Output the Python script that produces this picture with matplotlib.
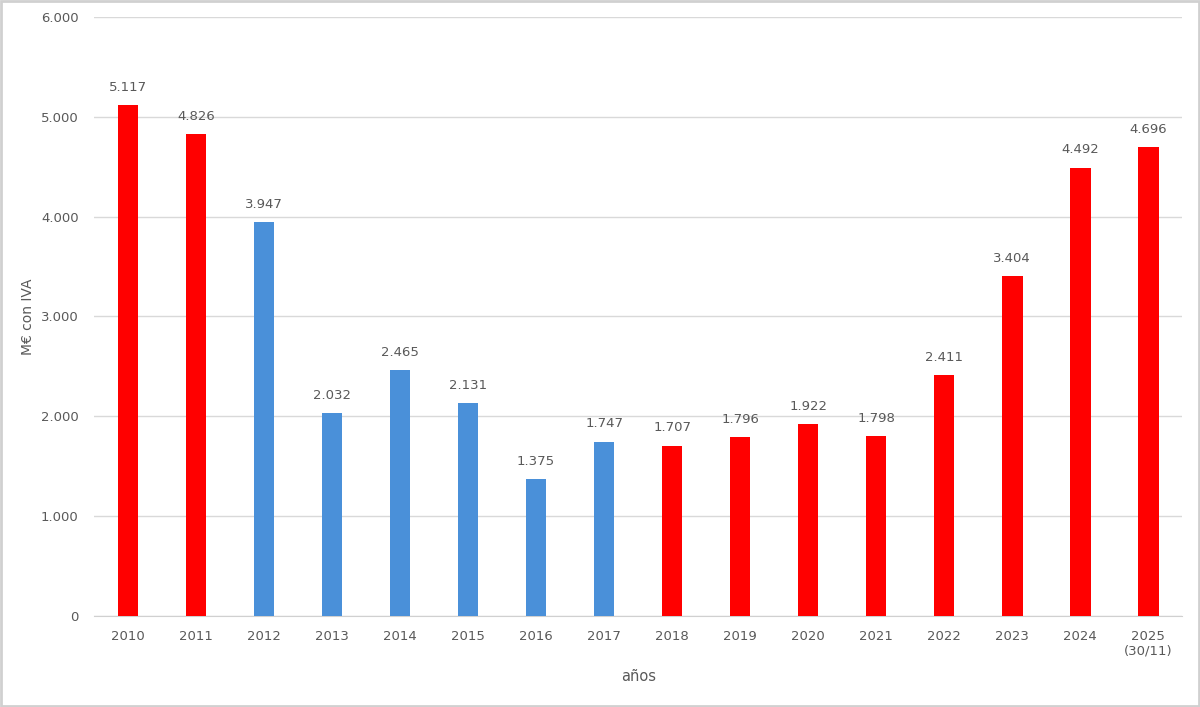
import matplotlib.pyplot as plt
from matplotlib.patches import Rectangle

# data
years = ['2010', '2011', '2012', '2013', '2014', '2015', '2016', '2017',
         '2018', '2019', '2020', '2021', '2022', '2023', '2024', '2025\n(30/11)']
values = [5117, 4826, 3947, 2032, 2465, 2131, 1375, 1747,
          1707, 1796, 1922, 1798, 2411, 3404, 4492, 4696]
blue_years = ['2012', '2013', '2014', '2015', '2016', '2017']

red = '#FF0000'
blue = '#4A90D9'
grey_txt = '#595959'

def fmt(v):
    return f'{v:,}'.replace(',', '.')

fig = plt.figure(figsize=(12, 7.07), dpi=100)
ax = fig.add_axes([0.0783, 0.1287, 0.907, 0.8473])

colors = [blue if y in blue_years else red for y in years]
x = range(len(years))
bars = ax.bar(x, values, width=0.3, color=colors, zorder=3)

for b, v in zip(bars, values):
    ax.annotate(fmt(v), (b.get_x() + b.get_width() / 2, v),
                xytext=(0, 8), textcoords='offset points',
                ha='center', va='bottom', fontsize=9.5, color=grey_txt)

ax.set_xlim(-0.5, len(years) - 0.5)
ax.set_ylim(0, 6000)
ax.set_yticks(range(0, 6001, 1000))
ax.set_yticklabels([fmt(t) for t in range(0, 6001, 1000)])
ax.set_xticks(list(x))
ax.set_xticklabels(years)
ax.tick_params(length=0, labelsize=9.5, colors=grey_txt, pad=10)
ax.tick_params(axis='y', pad=11)
ax.grid(axis='y', color='#D9D9D9', linewidth=1, zorder=0)
for s in ['top', 'right', 'left']:
    ax.spines[s].set_visible(False)
ax.spines['bottom'].set_color('#D0D0D0')

ax.set_ylabel('M€ con IVA', fontsize=10, color=grey_txt, labelpad=4)
ax.set_xlabel('años', fontsize=10.5, color=grey_txt, labelpad=8)

fig.patches.append(Rectangle((0.001, 0.001), 0.998, 0.997, transform=fig.transFigure,
                             fill=False, edgecolor='#D0D0D0', linewidth=2))

fig.savefig('out.png', dpi=100)
